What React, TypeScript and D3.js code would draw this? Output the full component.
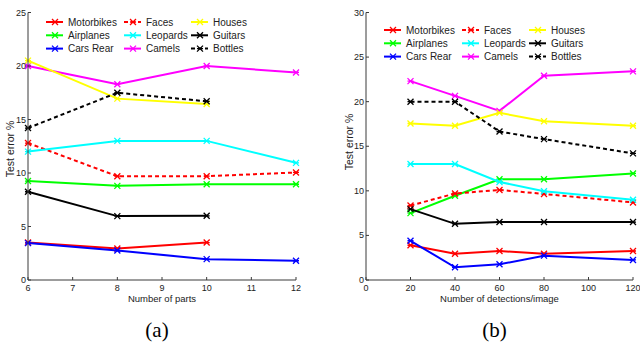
import * as d3 from "d3";

// ---- data ----
const seriesNames = ["Motorbikes", "Airplanes", "Cars Rear", "Faces", "Leopards", "Camels", "Houses", "Guitars", "Bottles"];
const seriesColors = ["#ff0000", "#00ff00", "#0000ff", "#ff0000", "#00ffff", "#ff00ff", "#ffff00", "#000000", "#000000"];
const seriesDashed = [false, false, false, true, false, false, false, false, true];

const partsX = [6, 8, 10, 12];
const partsMotorbikes = [3.5, 2.95, 3.5];
const partsAirplanes = [9.25, 8.8, 8.95, 8.95];
const partsCarsRear = [3.45, 2.75, 1.95, 1.8];
const partsFaces = [12.8, 9.7, 9.7, 10.05];
const partsLeopards = [12.0, 13.0, 13.0, 10.95];
const partsCamels = [20.0, 18.3, 20.0, 19.4];
const partsHouses = [20.5, 16.95, 16.45];
const partsGuitars = [8.25, 5.97, 6.0];
const partsBottles = [14.2, 17.5, 16.7];

const detX = [20, 40, 60, 80, 120];
const detMotorbikes = [3.9, 2.95, 3.25, 2.95, 3.25];
const detAirplanes = [7.5, 9.45, 11.3, 11.3, 11.95];
const detCarsRear = [4.4, 1.43, 1.76, 2.73, 2.25];
const detFaces = [8.35, 9.7, 10.1, 9.65, 8.7];
const detLeopards = [13.0, 13.0, 11.0, 9.95, 9.0];
const detCamels = [22.3, 20.65, 18.97, 22.9, 23.4];
const detHouses = [17.55, 17.3, 18.75, 17.8, 17.3];
const detGuitars = [7.95, 6.3, 6.5, 6.5, 6.5];
const detBottles = [20.0, 20.0, 16.65, 15.8, 14.2];

const partsTicksX = [6, 7, 8, 9, 10, 11, 12];
const partsTicksY = [0, 5, 10, 15, 20, 25];
const detTicksX = [0, 20, 40, 60, 80, 100, 120];
const detTicksY = [0, 5, 10, 15, 20, 25, 30];

const partsSeries = [partsMotorbikes, partsAirplanes, partsCarsRear, partsFaces, partsLeopards, partsCamels, partsHouses, partsGuitars, partsBottles];
const detSeries = [detMotorbikes, detAirplanes, detCarsRear, detFaces, detLeopards, detCamels, detHouses, detGuitars, detBottles];

const font = "'Liberation Sans', Arial, sans-serif";
const axisColor = "#3a3a3a";

type PanelProps = {
  left: number;
  right: number;
  xDomain: [number, number];
  yDomain: [number, number];
  xs: number[];
  series: number[][];
  ticksX: number[];
  ticksY: number[];
  xLabel: string;
  yLabelX: number;
  yLabelY: number;
  caption: string;
  legendX: number;
  legendY: number;
};

const Marker = ({ x, y, color }: { x: number; y: number; color: string }) => {
  const s = 3;
  return (
    <path
      d={`M${x - s},${y - s}L${x + s},${y + s}M${x - s},${y + s}L${x + s},${y - s}M${x - s},${y}L${x + s},${y}`}
      stroke={color}
      strokeWidth={1.3}
      fill="none"
    />
  );
};

const Panel = (p: PanelProps) => {
  const top = 12.5;
  const bottom = 280;
  const x = d3.scaleLinear().domain(p.xDomain).range([p.left, p.right]);
  const y = d3.scaleLinear().domain(p.yDomain).range([bottom, top]);
  const line = d3
    .line<[number, number]>()
    .x((d) => x(d[0]))
    .y((d) => y(d[1]));

  const colOffsets = [0, 78, 145];
  const rowGap = 13.3;

  return (
    <g>
      {/* series */}
      {p.series.map((vals, i) => {
        const pts = vals.map((v, j) => [p.xs[j], v] as [number, number]);
        return (
          <g key={i}>
            <path
              d={line(pts) ?? ""}
              fill="none"
              stroke={seriesColors[i]}
              strokeWidth={2}
              strokeDasharray={seriesDashed[i] ? "4,3" : undefined}
            />
            {pts.map((d, j) => (
              <Marker key={j} x={x(d[0])} y={y(d[1])} color={seriesColors[i]} />
            ))}
          </g>
        );
      })}

      {/* axes */}
      <line x1={p.left} x2={p.left} y1={top} y2={bottom} stroke={axisColor} strokeWidth={1} />
      <line x1={p.left} x2={p.right} y1={bottom} y2={bottom} stroke={axisColor} strokeWidth={1} />
      {p.ticksY.map((t) => (
        <g key={"y" + t}>
          <line x1={p.left} x2={p.left + 3} y1={y(t)} y2={y(t)} stroke={axisColor} />
          <text x={p.left - 2} y={y(t) + 3} fontSize={9} fontFamily={font} textAnchor="end" fill="#222">
            {t}
          </text>
        </g>
      ))}
      {p.ticksX.map((t) => (
        <g key={"x" + t}>
          <line x1={x(t)} x2={x(t)} y1={bottom} y2={bottom - 3} stroke={axisColor} />
          <text x={x(t)} y={bottom + 11} fontSize={9} fontFamily={font} textAnchor="middle" fill="#222">
            {t}
          </text>
        </g>
      ))}
      <text
        transform={`translate(${p.yLabelX},${p.yLabelY}) rotate(-90)`}
        fontSize={10.5}
        fontFamily={font}
        textAnchor="middle"
        fill="#222"
      >
        Test error %
      </text>
      <text x={(p.left + p.right) / 2} y={bottom + 22} fontSize={9.5} fontFamily={font} textAnchor="middle" fill="#222">
        {p.xLabel}
      </text>
      <text x={(p.left + p.right) / 2 - 5} y={337} fontSize={21} fontFamily="'Liberation Serif', 'Times New Roman', serif" textAnchor="middle" fill="#000">
        {p.caption}
      </text>

      {/* legend */}
      {seriesNames.map((name, i) => {
        const col = Math.floor(i / 3);
        const row = i % 3;
        const lx = p.legendX + colOffsets[col];
        const ly = p.legendY + row * rowGap;
        return (
          <g key={name}>
            <line
              x1={lx}
              x2={lx + 17}
              y1={ly}
              y2={ly}
              stroke={seriesColors[i]}
              strokeWidth={2}
              strokeDasharray={seriesDashed[i] ? "4,3" : undefined}
            />
            <Marker x={lx + 9} y={ly} color={seriesColors[i]} />
            <text x={lx + 22} y={ly + 3.5} fontSize={10} fontFamily={font} fill="#222">
              {name}
            </text>
          </g>
        );
      })}
    </g>
  );
};

export default function App() {
  return (
    <svg width={640} height={343} style={{ position: "absolute", left: 0, top: 0, background: "#fff" }}>
      <Panel
        left={28}
        right={296}
        xDomain={[6, 12]}
        yDomain={[0, 25]}
        xs={partsX}
        series={partsSeries}
        ticksX={partsTicksX}
        ticksY={partsTicksY}
        xLabel="Number of parts"
        yLabelX={14}
        yLabelY={149}
        caption="(a)"
        legendX={46}
        legendY={22}
      />
      <Panel
        left={366}
        right={633}
        xDomain={[0, 120]}
        yDomain={[0, 30]}
        xs={detX}
        series={detSeries}
        ticksX={detTicksX}
        ticksY={detTicksY}
        xLabel="Number of detections/image"
        yLabelX={353}
        yLabelY={142}
        caption="(b)"
        legendX={384}
        legendY={30}
      />
    </svg>
  );
}
